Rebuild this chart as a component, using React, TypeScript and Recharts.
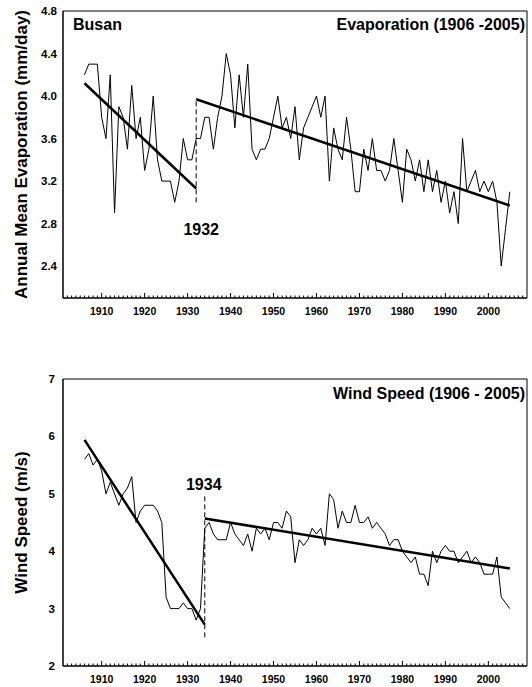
import { LineChart, Line, XAxis, YAxis, ReferenceLine, ReferenceArea, Label } from 'recharts'

const FONT = '"Liberation Sans", Arial, sans-serif'
const FIRST_YEAR = 1906

// annual means, Busan 1906-2005
const evaporation = [
  4.2, 4.3, 4.3, 4.3, 3.8, 3.6, 4.2, 2.9, 3.9, 3.8,
  3.5, 4.1, 3.6, 3.8, 3.3, 3.5, 4.0, 3.4, 3.2, 3.2,
  3.2, 3.0, 3.2, 3.6, 3.4, 3.4, 3.6, 3.6, 3.8, 3.8,
  3.5, 3.8, 4.0, 4.4, 4.2, 3.7, 4.2, 3.8, 4.3, 3.5,
  3.4, 3.5, 3.5, 3.6, 3.8, 4.0, 3.7, 3.8, 3.6, 3.9,
  3.4, 3.7, 3.8, 3.9, 4.0, 3.8, 4.0, 3.2, 3.7, 3.5,
  3.4, 3.8, 3.5, 3.1, 3.1, 3.5, 3.3, 3.6, 3.3, 3.3,
  3.2, 3.3, 3.6, 3.3, 3.0, 3.5, 3.4, 3.2, 3.4, 3.1,
  3.4, 3.1, 3.3, 3.0, 3.2, 2.9, 3.1, 2.8, 3.6, 3.1,
  3.2, 3.3, 3.1, 3.2, 3.1, 3.2, 3.0, 2.4, 2.75, 3.1,
]

const windSpeed = [
  5.6, 5.7, 5.5, 5.6, 5.4, 5.0, 5.2, 5.0, 4.8, 5.0,
  5.1, 5.3, 4.5, 4.7, 4.8, 4.8, 4.8, 4.7, 4.5, 3.2,
  3.0, 3.0, 3.0, 3.1, 3.0, 3.0, 2.8, 3.0, 4.4, 4.5,
  4.3, 4.2, 4.2, 4.2, 4.5, 4.3, 4.2, 4.1, 4.3, 4.0,
  4.4, 4.3, 4.4, 4.2, 4.5, 4.5, 4.4, 4.7, 4.6, 3.8,
  4.2, 4.1, 4.2, 4.4, 4.3, 4.4, 4.1, 5.0, 4.9, 4.4,
  4.7, 4.5, 4.5, 4.8, 4.5, 4.5, 4.6, 4.4, 4.5, 4.4,
  4.3, 4.1, 4.2, 4.2, 4.0, 3.9, 3.8, 3.9, 3.6, 3.6,
  3.4, 4.0, 3.8, 4.0, 4.1, 4.0, 4.0, 3.8, 3.9, 4.0,
  3.8, 3.9, 3.8, 3.6, 3.6, 3.6, 3.9, 3.2, 3.1, 3.0,
]

// fitted trends either side of the change points
const evapTrendBefore = [{ year: 1906, v: 4.12 }, { year: 1932, v: 3.13 }]
const evapTrendAfter = [{ year: 1932, v: 3.97 }, { year: 2005, v: 2.97 }]
const windTrendBefore = [{ year: 1906, v: 5.94 }, { year: 1934, v: 2.72 }]
const windTrendAfter = [{ year: 1934, v: 4.57 }, { year: 2005, v: 3.7 }]

const YEAR_RANGE = [1901, 2009]
const EVAP_RANGE = [2.1, 4.8]
const WIND_RANGE = [2, 7]
const evapTicks = [2.4, 2.8, 3.2, 3.6, 4.0, 4.4, 4.8]
const windTicks = [2, 3, 4, 5, 6, 7]
const yearTicks = Array.from({ length: 107 }, (_, i) => 1902 + i)

const evapData = evaporation.map((evap, i) => ({ year: FIRST_YEAR + i, evap }))
const windData = windSpeed.map((wind, i) => ({ year: FIRST_YEAR + i, wind }))

const TICK_GAP = 10
const FRAME = { stroke: '#000', strokeWidth: 1 }

const YearTick = ({ x, y, payload }: any) => {
  const axisY = y - TICK_GAP
  const major = payload.value % 10 === 0
  return (
    <g>
      <line x1={x} x2={x} y1={axisY} y2={axisY - (major ? 5 : 2.5)} stroke="#000" strokeWidth={1} />
      {major && (
        <text x={x} y={y} dy="0.71em" textAnchor="middle" fontSize={10.5} fontWeight="bold" fontFamily={FONT} fill="#000">
          {payload.value}
        </text>
      )}
    </g>
  )
}

const yLabel = (text: string) => (props: any) => {
  const { viewBox } = props
  const cx = 21
  const cy = viewBox.y + viewBox.height / 2
  return (
    <text x={cx} y={cy} transform={`rotate(-90 ${cx} ${cy})`} textAnchor="middle" dominantBaseline="central"
      fontSize={17} fontWeight="bold" fontFamily={FONT} fill="#000">
      {text}
    </text>
  )
}

const titles = (left: string | null, right: string, baseline: number) => (props: any) => {
  const { x, y, width } = props.viewBox
  return (
    <g fontSize={16} fontWeight="bold" fontFamily={FONT} fill="#000">
      {left && <text x={x + 10} y={y + baseline}>{left}</text>}
      <text x={x + width - 2} y={y + baseline} textAnchor="end">{right}</text>
    </g>
  )
}

const breakLabel = (text: string, where: 'above' | 'below', dx: number, gap: number) => (props: any) => {
  const { viewBox } = props
  const x = viewBox.x + dx
  const y = where === 'below' ? viewBox.y + viewBox.height + gap : viewBox.y - gap
  return (
    <text x={x} y={y} textAnchor="middle" fontSize={16} fontWeight="bold" fontFamily={FONT} fill="#000">
      {text}
    </text>
  )
}

const yTickStyle = { fontSize: 11.5, fontWeight: 'bold', fill: '#000', fontFamily: FONT }

export default function App() {
  return (
    <div style={{ position: 'absolute', left: 0, top: 0, width: 532, height: 687, background: '#fff' }}>
      <LineChart width={532} height={330} data={evapData} margin={{ top: 11, right: 5, bottom: 0, left: 0 }}>
        <XAxis dataKey="year" type="number" domain={YEAR_RANGE} ticks={yearTicks} interval={0}
          tick={<YearTick />} tickSize={0} tickMargin={TICK_GAP} tickLine={false} axisLine={FRAME} height={32} />
        <XAxis xAxisId="top" orientation="top" type="number" domain={YEAR_RANGE} tick={false}
          tickLine={false} axisLine={FRAME} height={0} />
        <YAxis type="number" domain={EVAP_RANGE} ticks={evapTicks} allowDataOverflow width={63}
          tickFormatter={(v: number) => v.toFixed(1)} tick={yTickStyle} tickSize={0} tickMargin={6}
          tickLine={false} axisLine={FRAME}>
          <Label content={yLabel('Annual Mean Evaporation (mm/day)')} />
        </YAxis>
        <YAxis yAxisId="right" orientation="right" type="number" domain={EVAP_RANGE} tick={false}
          tickLine={false} axisLine={FRAME} width={0} />
        <ReferenceArea x1={YEAR_RANGE[0]} x2={YEAR_RANGE[1]} y1={EVAP_RANGE[0]} y2={EVAP_RANGE[1]}
          fill="none" stroke="#000" strokeWidth={1} ifOverflow="visible">
          <Label content={titles('Busan', 'Evaporation (1906 -2005)', 19)} />
        </ReferenceArea>
        <ReferenceLine segment={[{ x: 1932, y: 3.0 }, { x: 1932, y: 3.98 }]} stroke="#000" strokeDasharray="5 3">
          <Label content={breakLabel('1932', 'below', 5, 33)} />
        </ReferenceLine>
        <Line dataKey="evap" stroke="#000" strokeWidth={1} dot={false} isAnimationActive={false} />
        <Line data={evapTrendBefore} dataKey="v" stroke="#000" strokeWidth={2.5} dot={false} isAnimationActive={false} />
        <Line data={evapTrendAfter} dataKey="v" stroke="#000" strokeWidth={2.5} dot={false} isAnimationActive={false} />
      </LineChart>

      <LineChart width={532} height={357} data={windData} margin={{ top: 49, right: 5, bottom: 0, left: 0 }}>
        <XAxis dataKey="year" type="number" domain={YEAR_RANGE} ticks={yearTicks} interval={0}
          tick={<YearTick />} tickSize={0} tickMargin={TICK_GAP} tickLine={false} axisLine={FRAME} height={21} />
        <XAxis xAxisId="top" orientation="top" type="number" domain={YEAR_RANGE} tick={false}
          tickLine={false} axisLine={FRAME} height={0} />
        <YAxis type="number" domain={WIND_RANGE} ticks={windTicks} allowDataOverflow width={63}
          tick={yTickStyle} tickSize={0} tickMargin={8} tickLine={false} axisLine={FRAME}>
          <Label content={yLabel('Wind Speed (m/s)')} />
        </YAxis>
        <YAxis yAxisId="right" orientation="right" type="number" domain={WIND_RANGE} tick={false}
          tickLine={false} axisLine={FRAME} width={0} />
        <ReferenceArea x1={YEAR_RANGE[0]} x2={YEAR_RANGE[1]} y1={WIND_RANGE[0]} y2={WIND_RANGE[1]}
          fill="none" stroke="#000" strokeWidth={1} ifOverflow="visible">
          <Label content={titles(null, 'Wind Speed (1906 - 2005)', 20)} />
        </ReferenceArea>
        <ReferenceLine segment={[{ x: 1934, y: 2.5 }, { x: 1934, y: 5.0 }]} stroke="#000" strokeDasharray="5 3">
          <Label content={breakLabel('1934', 'above', -1, 4)} />
        </ReferenceLine>
        <Line dataKey="wind" stroke="#000" strokeWidth={1} dot={false} isAnimationActive={false} />
        <Line data={windTrendBefore} dataKey="v" stroke="#000" strokeWidth={2.5} dot={false} isAnimationActive={false} />
        <Line data={windTrendAfter} dataKey="v" stroke="#000" strokeWidth={2.5} dot={false} isAnimationActive={false} />
      </LineChart>
    </div>
  )
}
